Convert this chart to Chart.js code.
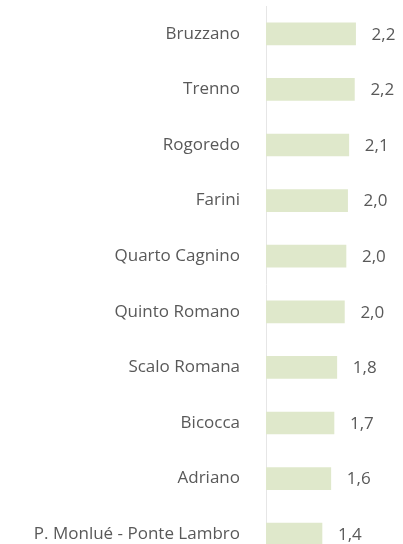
<!DOCTYPE html>
<html>
<head>
<meta charset="utf-8">
<script src="https://cdn.jsdelivr.net/npm/chart.js@4"></script>
<style>
	html, body { margin: 0; padding: 0; background: #fff; overflow: hidden; }
	canvas { display: block; }
</style>
</head>
<body>
<canvas id="chart" width="403" height="564"></canvas>
<script>
	// Zone
	const categories = [
		'Bruzzano',
		'Trenno',
		'Rogoredo',
		'Farini',
		'Quarto Cagnino',
		'Quinto Romano',
		'Scalo Romana',
		'Bicocca',
		'Adriano',
		'P. Monlué - Ponte Lambro'
	];

	// Valori (stimati dalla lunghezza delle barre)
	const values = [2.24, 2.21, 2.07, 2.04, 2.00, 1.96, 1.77, 1.70, 1.62, 1.40];

	// Etichette mostrate accanto alle barre
	const valueLabels = ['2,2', '2,2', '2,1', '2,0', '2,0', '2,0', '1,8', '1,7', '1,6', '1,4'];

	const textColor = '#595959';
	const fontFamily = '"Open Sans", sans-serif';

	// Disegna il valore a destra di ogni barra
	const valueLabelPlugin = {
		id: 'valueLabels',
		afterDatasetsDraw: function (chart) {
			const ctx = chart.ctx;
			const meta = chart.getDatasetMeta( 0 );
			ctx.save();
			ctx.font = '17px ' + fontFamily;
			ctx.fillStyle = textColor;
			ctx.textAlign = 'left';
			ctx.textBaseline = 'middle';
			meta.data.forEach( function (bar, i) {
				ctx.fillText( valueLabels[i], bar.x + 16, bar.y + 1 );
			} );
			ctx.restore();
		}
	};

	new Chart(
		document.getElementById( 'chart' ),
		{
			type: 'bar',
			data: {
				labels: categories,
				datasets: [{
					data: values,
					backgroundColor: '#DFE8CB',
					borderWidth: 0,
					barThickness: 22
				}]
			},
			options: {
				indexAxis: 'y',
				responsive: false,
				maintainAspectRatio: false,
				devicePixelRatio: 1,
				animation: false,
				layout: {
					padding: { top: 6, right: 17, bottom: 2, left: 0 }
				},
				plugins: {
					legend: { display: false },
					tooltip: { enabled: false }
				},
				scales: {
					x: {
						display: false,
						min: 0,
						max: 3
					},
					y: {
						afterFit: function (scale) {
							// larghezza fissa e niente padding verticale extra
							scale.width = 266;
							scale.paddingTop = 0;
							scale.paddingBottom = 0;
						},
						grid: {
							display: false,
							drawTicks: false
						},
						border: {
							display: true,
							color: '#E6E6E6',
							width: 1
						},
						ticks: {
							padding: 26,
							color: textColor,
							font: { family: fontFamily, size: 17 }
						}
					}
				}
			},
			plugins: [valueLabelPlugin]
		}
	);
</script>
</body>
</html>
